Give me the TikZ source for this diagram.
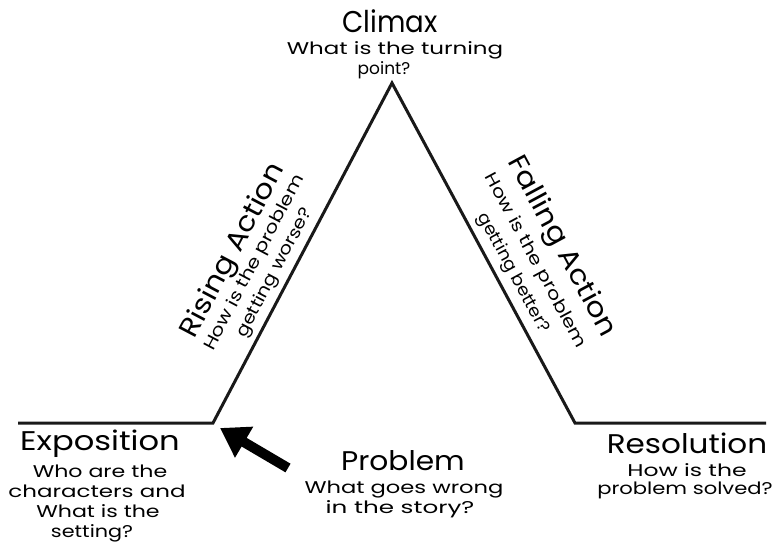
\documentclass[tikz,border=0pt]{standalone}
\usepackage{fontspec}
\usepackage{graphicx}
\setmainfont{Poppins}
\usetikzlibrary{arrows.meta}
\newcommand{\sw}[2]{\scalebox{#1}[1]{#2}}
\tikzset{
  plotline/.style={line width=3pt, draw=black!90, line join=miter},
  ttl/.style={font=\fontsize{27}{30}\selectfont, inner sep=0pt, anchor=base},
  sub/.style={font=\fontsize{17}{20}\selectfont, inner sep=0pt, anchor=base},
  rttl/.style={font=\fontsize{27}{30}\selectfont, inner sep=0pt, anchor=center},
  rsub/.style={font=\fontsize{17}{20}\selectfont, inner sep=0pt, anchor=center},
  bigarrow/.style={line width=10pt, -{Triangle[length=28pt,width=34pt]}}
}
\begin{document}
\begin{tikzpicture}[x=1pt,y=-1pt]
\useasboundingbox (0,0) rectangle (774,550);
\coordinate (L) at (18,423);
\coordinate (A) at (213,423);
\coordinate (T) at (392,83);
\coordinate (B) at (575,423);
\coordinate (R) at (766,423);
\draw[plotline] (L) -- (A) -- (T) -- (B) -- (R);

% Climax
\node[ttl, font=\fontsize{30}{32}\selectfont] (climax) at (390,32) {\sw{0.92}{Climax}};
\node[sub] (climaxq1) at (395,54) {\sw{1.35}{What is the turning}};
\node[sub] (climaxq2) at (384,74) {point?};

% Rising action
\node[rttl, rotate=62.2] (rising) at (234,251) {\sw{1.12}{Rising Action}};
\node[rsub, rotate=62.2] (rising1) at (255,263) {\sw{1.2}{How is the problem}};
\node[rsub, rotate=62.2] (rising2) at (275,273) {\sw{1.15}{getting worse?}};

% Falling action
\node[rttl, rotate=-61.7] (falling) at (561,247) {\sw{1.12}{Falling Action}};
\node[rsub, rotate=-61.7] (falling1) at (535,261) {\sw{1.2}{How is the problem}};
\node[rsub, rotate=-61.7] (falling2) at (513,273) {\sw{1.06}{getting better?}};

% Exposition
\node[ttl] (expo) at (100,450) {\sw{1.19}{Exposition}};
\node[sub] (expo1) at (100,477) {\sw{1.3}{Who are the}};
\node[sub] (expo2) at (97,497) {\sw{1.35}{characters and}};
\node[sub] (expo3) at (98,517) {\sw{1.3}{What is the}};
\node[sub] (expo4) at (92,537) {\sw{1.22}{setting?}};

% Problem
\node[ttl] (prob) at (403,470) {\sw{1.1}{Problem}};
\node[sub] (prob1) at (404,493) {\sw{1.33}{What goes wrong}};
\node[sub] (prob2) at (400,513) {\sw{1.45}{in the story?}};

% Resolution
\node[ttl] (reso) at (687,453) {\sw{1.15}{Resolution}};
\node[sub] (reso1) at (687,476) {\sw{1.38}{How is the}};
\node[sub] (reso2) at (685,494) {\sw{1.24}{problem solved?}};

% Arrow
\coordinate (arrTail) at (288,468);
\coordinate (arrTip) at (220,428);
\draw[bigarrow] (arrTail) -- (arrTip);
\end{tikzpicture}
\end{document}
